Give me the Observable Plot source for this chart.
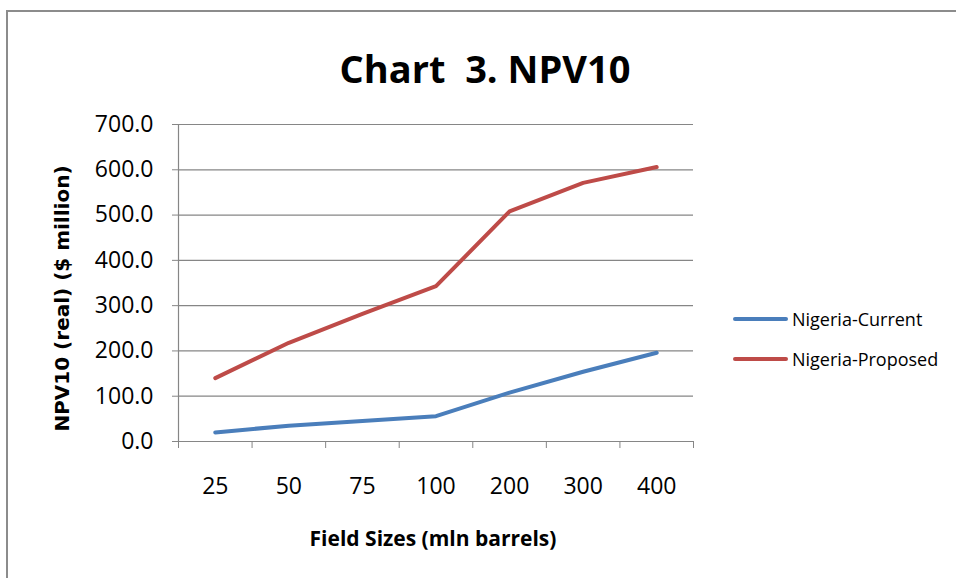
<!DOCTYPE html>
<html>
<head>
<meta charset="utf-8">
<script src="https://cdn.jsdelivr.net/npm/d3@7"></script>
<script src="https://cdn.jsdelivr.net/npm/@observablehq/plot@0.6"></script>
<style>
  html, body { margin: 0; padding: 0; background: #fff; }
  #wrap { position: relative; width: 956px; height: 578px; overflow: hidden; }
  #frame { position: absolute; left: 6px; top: 10px; width: 1000px; height: 700px;
           border-left: 2px solid #8c8c8c; border-top: 2px solid #8c8c8c; box-sizing: border-box; }
  #chart { position: absolute; left: 0; top: 0; }
  #overlay { position: absolute; left: 0; top: 0; pointer-events: none; }
  #overlay text { white-space: pre; }
</style>
</head>
<body>
<div id="wrap">
  <div id="frame"></div>
  <div id="chart"></div>
  <svg id="overlay" width="956" height="578"></svg>
</div>
<script>
const categories = ["25", "50", "75", "100", "200", "300", "400"];
const nigeriaCurrent = [20, 35, 45, 56, 108, 154, 196];
const nigeriaProposed = [140, 218, 282, 343, 508, 571, 606];
const yTicks = [0, 100, 200, 300, 400, 500, 600, 700];
const seriesNames = ["Nigeria-Current", "Nigeria-Proposed"];
const seriesColors = ["#4a7ebb", "#be4b48"];

const rows = [];
categories.forEach((c, i) => {
  rows.push({i, cat: c, series: seriesNames[0], value: nigeriaCurrent[i]});
  rows.push({i, cat: c, series: seriesNames[1], value: nigeriaProposed[i]});
});
const boundaries = d3.range(categories.length + 1).map(k => k - 0.5);
const gray = "#868686";
const tickFont = "'Open Sans', sans-serif";

const plot = Plot.plot({
  width: 956,
  height: 578,
  marginLeft: 178,
  marginRight: 263,
  marginTop: 124,
  marginBottom: 137,
  style: {background: "transparent", fontFamily: tickFont},
  x: {type: "linear", domain: [-0.5, categories.length - 0.5]},
  y: {domain: [0, 700]},
  color: {domain: seriesNames, range: seriesColors},
  marks: [
    Plot.ruleY(yTicks, {stroke: gray, strokeWidth: 1.2}),
    Plot.ruleX([-0.5], {stroke: gray, strokeWidth: 1.2}),
    Plot.axisY({ticks: yTicks, tickSize: 6, tickPadding: 19, stroke: gray, fill: "black",
      tickFormat: d3.format(".1f"), fontSize: 23, label: null}),
    Plot.axisX({ticks: boundaries, tickSize: 7, stroke: gray, tickFormat: () => "", label: null}),
    Plot.axisX({ticks: d3.range(categories.length), tickSize: 0, tickPadding: 36, fill: "black",
      tickFormat: k => categories[k], fontSize: 23, label: null}),
    Plot.line(rows, {x: "i", y: "value", z: "series", stroke: "series", strokeWidth: 4,
      strokeLinecap: "round", strokeLinejoin: "round"})
  ]
});
document.getElementById("chart").appendChild(plot);

const ov = d3.select("#overlay");
ov.append("text").attr("x", 485).attr("y", 83).attr("text-anchor", "middle")
  .attr("font-family", "'Open Sans', sans-serif").attr("font-weight", 700).attr("font-size", 38)
  .attr("fill", "black").attr("xml:space", "preserve").text("Chart  3. NPV10");
ov.append("text").attr("x", 433).attr("y", 546).attr("text-anchor", "middle")
  .attr("font-family", "'Open Sans', sans-serif").attr("font-weight", 700).attr("font-size", 21)
  .attr("fill", "black").text("Field Sizes (mln barrels)");
ov.append("text").attr("transform", "translate(69,298.5) rotate(-90)").attr("text-anchor", "middle")
  .attr("font-family", "'DejaVu Sans', sans-serif").attr("font-weight", 700).attr("font-size", 20)
  .attr("fill", "black").text("NPV10 (real) ($ million)");

const legendY = [319, 359];
seriesNames.forEach((name, k) => {
  ov.append("line").attr("x1", 735).attr("x2", 786).attr("y1", legendY[k]).attr("y2", legendY[k])
    .attr("stroke", seriesColors[k]).attr("stroke-width", 4).attr("stroke-linecap", "round");
  ov.append("text").attr("x", 792).attr("y", legendY[k] + 7)
    .attr("font-family", "'Open Sans', sans-serif").attr("font-size", 18)
    .attr("fill", "black").text(name);
});
</script>
</body>
</html>
